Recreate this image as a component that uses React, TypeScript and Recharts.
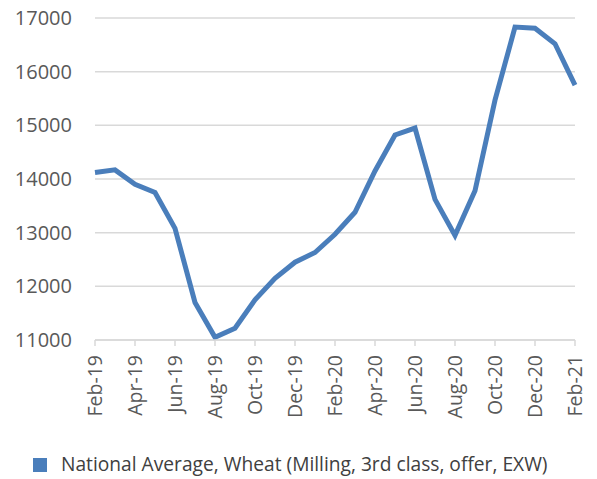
import React from 'react';
import { LineChart, Line, XAxis, YAxis, CartesianGrid, Legend } from 'recharts';

const months = [
  'Feb-19', 'Mar-19', 'Apr-19', 'May-19', 'Jun-19', 'Jul-19', 'Aug-19', 'Sep-19', 'Oct-19',
  'Nov-19', 'Dec-19', 'Jan-20', 'Feb-20', 'Mar-20', 'Apr-20', 'May-20', 'Jun-20', 'Jul-20',
  'Aug-20', 'Sep-20', 'Oct-20', 'Nov-20', 'Dec-20', 'Jan-21', 'Feb-21',
];

const wheatPrice = [
  14120, 14170, 13900, 13750, 13080, 11700, 11050, 11220, 11750,
  12150, 12450, 12630, 12970, 13380, 14150, 14820, 14950, 13620,
  12950, 13780, 15470, 16830, 16810, 16520, 15750,
];

const yTicks = [11000, 12000, 13000, 14000, 15000, 16000, 17000];

const seriesName = 'National Average, Wheat (Milling, 3rd class, offer, EXW)';

const data = months.map((m, i) => ({ month: m, value: wheatPrice[i] }));

const FONT = '"Open Sans", sans-serif';
const TEXT = '#595959';
const BLUE = '#4a7ebb';
const GRID = '#d9d9d9';

const XTick = (props: any) => {
  const { x, y, payload } = props;
  return (
    <g transform={`translate(${x},${y})`}>
      <text
        transform="rotate(-90)"
        textAnchor="end"
        dy="0.36em"
        fill={TEXT}
        fontSize={19.5}
        fontFamily={FONT}
      >
        {payload.value}
      </text>
    </g>
  );
};

const LegendBox = () => (
  <div style={{ height: 49, position: 'relative', fontFamily: FONT }}>
    <div style={{ position: 'absolute', left: 33, top: 28, width: 14, height: 14, background: BLUE }} />
    <div style={{ position: 'absolute', left: 61, top: 20, fontSize: 19.2, color: '#404040', whiteSpace: 'nowrap' }}>
      {seriesName}
    </div>
  </div>
);

export default function App() {
  return (
    <div style={{ position: 'absolute', left: 0, top: 0, background: '#fff', fontFamily: FONT }}>
      <LineChart width={597} height={479} data={data} margin={{ top: 18, right: 22, left: 0, bottom: 0 }}>
        <CartesianGrid vertical={false} stroke={GRID} strokeWidth={1.5} />
        <XAxis
          dataKey="month"
          interval={1}
          height={90}
          stroke={GRID}
          strokeWidth={1.5}
          tickSize={6}
          tickMargin={9}
          tick={<XTick />}
        />
        <YAxis
          domain={[11000, 17000]}
          ticks={yTicks}
          width={95}
          axisLine={false}
          tickLine={false}
          tickMargin={17}
          tick={{ fill: TEXT, fontSize: 20, fontFamily: FONT }}
        />
        <Legend
          verticalAlign="bottom"
          content={<LegendBox />}
          wrapperStyle={{ left: 0, width: 597, height: 49 }}
        />
        <Line
          type="linear"
          dataKey="value"
          name={seriesName}
          stroke={BLUE}
          strokeWidth={5}
          dot={false}
          isAnimationActive={false}
        />
      </LineChart>
    </div>
  );
}
